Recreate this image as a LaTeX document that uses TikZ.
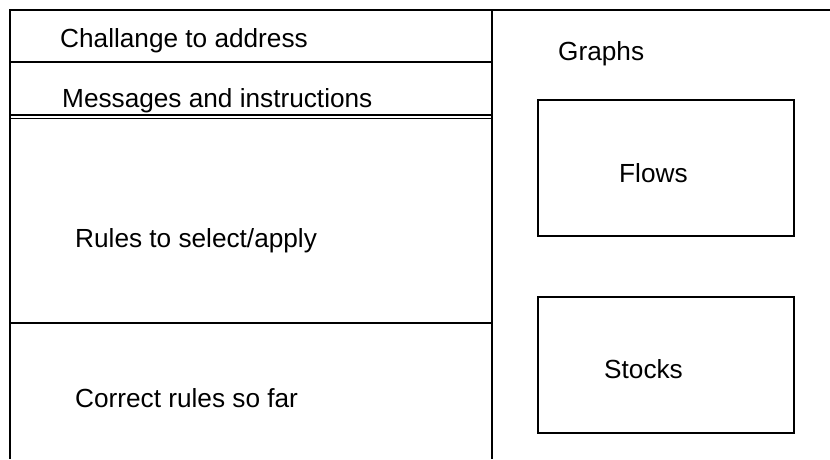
\documentclass[tikz,border=0pt]{standalone}
\usepackage{fontspec}
\setmainfont{Liberation Sans}
\begin{document}
\begin{tikzpicture}[x=1pt,y=-1pt,
  rule/.style={line width=1.5pt,black},
  lbl/.style={anchor=base west,inner sep=0pt,font=\fontsize{26.2}{30}\selectfont},
  gbox/.style={draw,line width=1.5pt,minimum width=256pt,minimum height=136pt,inner sep=0pt}]
\useasboundingbox (0,0) rectangle (830,459);
% frame
\coordinate (tl) at (10,10);
\coordinate (tr) at (830,10);
\coordinate (bl) at (10,459);
\coordinate (mt) at (492,10);
\coordinate (mb) at (492,459);
\draw[rule] (tr) -- (tl) -- (bl);
\draw[rule] (mt) -- (mb);
\draw[rule] (10,62) -- (492,62);
\draw[rule] (10,115) -- (492,115);
\draw[rule,line width=1pt] (10,118.5) -- (492,118.5);
\draw[rule] (10,323) -- (492,323);
% texts
\node[lbl] (chal) at (60,47) {Challange to address};
\node[lbl] (msg) at (62,107) {Messages and instructions};
\node[lbl] (rules) at (75,247) {Rules to select/apply};
\node[lbl] (corr) at (75,407) {Correct rules so far};
\node[lbl] (graphs) at (558,60) {Graphs};
% boxes
\node[gbox] (flowsbox) at (666,168) {};
\node[gbox] (stocksbox) at (666,365) {};
\node[lbl] (flows) at (619,182) {Flows};
\node[lbl] (stocks) at (604,378) {Stocks};
\end{tikzpicture}
\end{document}
